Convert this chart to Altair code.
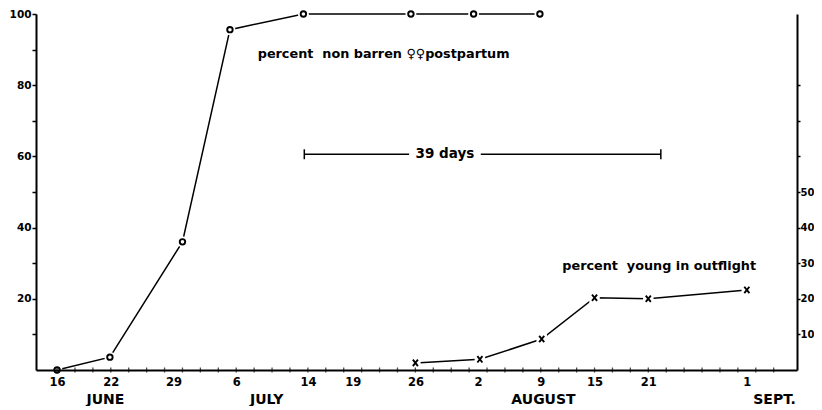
import altair as alt
import pandas as pd

# percent non-barren females postpartum; x = days after 16 June
nb_day = [0, 5.9, 14, 19.3, 27.5, 39.5, 46.5, 53.9]
nb_val = [0, 3.6, 36, 95.6, 100, 100, 100, 100]

# percent young in outflight
yg_day = [40, 47.2, 54.1, 60, 66, 77]
yg_val = [2, 3, 8.7, 20.3, 20, 22.5]

# x-axis labels (day numbers of month) and their positions
tick_days = [0, 6, 13, 20, 28, 33, 40, 47, 54, 60, 66, 77]
tick_labels = ["16", "22", "29", "6", "14", "19", "26", "2", "9", "15", "21", "1"]
minor_days = [0, 2, 4, 6, 8, 10, 12, 14, 16, 18, 20, 22, 24, 26, 28, 30, 32, 34, 36, 38,
              40, 42, 44, 46, 48, 50, 52, 54, 56, 58, 60, 62, 64, 66, 68, 70, 72, 74, 76, 78, 80]
months = ["JUNE", "JULY", "AUGUST", "SEPT."]
month_days = [5.4, 23.4, 54.3, 80.1]

# y axes
left_ticks = [10, 20, 30, 40, 50, 60, 70, 80, 90, 100]
right_ticks = [10, 20, 30, 40, 50, 60, 70, 80]

# annotations
ann_text = ["percent\u00a0 non barren \u2640\u2640postpartum", "percent\u00a0 young in outflight"]
ann_day = [22.4, 56.4]
ann_val = [88.8, 29.3]
bracket_start, bracket_end, bracket_val = 27.6, 67.4, 60.6
bracket_gap = [39.3, 47.3]
bracket_label = "39 days"

W, H = 761, 356
FONT = "DejaVu Sans"

nb = pd.DataFrame({"day": nb_day, "val": nb_val})
yg = pd.DataFrame({"day": yg_day, "val": yg_val})
minor = pd.DataFrame({"day": minor_days})
mon = pd.DataFrame({"day": month_days, "label": months})
ann = pd.DataFrame({"day": ann_day, "val": ann_val, "label": ann_text})
seg = pd.DataFrame({"day": [bracket_start, bracket_gap[1]], "day2": [bracket_gap[0], bracket_end],
                    "val": [bracket_val, bracket_val]})
caps = pd.DataFrame({"day": [bracket_start, bracket_end], "val": [bracket_val - 1.4, bracket_val - 1.4],
                     "val2": [bracket_val + 1.4, bracket_val + 1.4]})
blab = pd.DataFrame({"day": [(bracket_gap[0] + bracket_gap[1]) / 2], "val": [bracket_val],
                     "label": [bracket_label]})

xs = alt.Scale(domain=[-2.35, 82.6], nice=False, zero=False)
ys = alt.Scale(domain=[0, 100], nice=False, zero=False)

label_expr = ("[" + ",".join("'%s'" % l for l in tick_labels) + "][indexof(["
              + ",".join(str(d) for d in tick_days) + "], datum.value)]")

xaxis = alt.Axis(values=tick_days, labelExpr=label_expr, tickSize=0, labelPadding=6,
                 domainWidth=2, domainColor="black", grid=False, title=None,
                 labelFont=FONT, labelFontWeight="bold", labelFontSize=11.5,
                 labelColor="black", zindex=1)

X = alt.X("day:Q", scale=xs, axis=xaxis)
X2 = alt.X2("day2")

left_axis = alt.Axis(orient="left", values=left_ticks,
                     labelExpr="datum.value % 20 == 0 ? datum.value : ''",
                     tickSize=4, tickWidth=1.5, tickColor="black", labelPadding=1,
                     domainWidth=2, domainColor="black", grid=False, title=None,
                     labelFont=FONT, labelFontWeight="bold", labelFontSize=10.5,
                     labelColor="black", zindex=1)
right_axis = alt.Axis(orient="right", values=right_ticks,
                      labelExpr="datum.value <= 50 ? datum.value : ''",
                      tickSize=3, tickWidth=1.5, tickColor="black", labelPadding=0,
                      domainWidth=2, domainColor="black", grid=False, title=None,
                      labelFont=FONT, labelFontWeight="bold", labelFontSize=10,
                      labelColor="black", zindex=1)

Yl = alt.Y("val:Q", scale=ys, axis=left_axis)
Yr = alt.Y("val:Q", scale=ys, axis=right_axis)
Yn = alt.Y("val:Q", scale=ys, axis=None)

nb_line = alt.Chart(nb).mark_line(color="black", strokeWidth=1.5).encode(x=X, y=Yl)
yg_line = alt.Chart(yg).mark_line(color="black", strokeWidth=1.5).encode(x=X, y=Yr)

halo_nb = alt.Chart(nb).mark_point(shape="circle", filled=True, color="white", opacity=1,
                                   size=120).encode(x=X, y=Yn)
halo_yg = alt.Chart(yg).mark_point(shape="square", filled=True, color="white", opacity=1,
                                   size=110).encode(x=X, y=Yn)
pts_nb = alt.Chart(nb).mark_point(shape="circle", filled=False, color="black", opacity=1,
                                  size=30, strokeWidth=1.9).encode(x=X, y=Yn)
pts_yg = alt.Chart(yg).mark_point(shape="M-0.8,-1L0.8,1M-0.8,1L0.8,-1", filled=False,
                                  color="black", opacity=1, size=40,
                                  strokeWidth=1.9).encode(x=X, y=Yn)

minor_ticks = alt.Chart(minor).mark_tick(orient="vertical", color="black", size=5,
                                         thickness=1.3).encode(
    x=X, y=alt.YDatum(0, scale=ys, axis=None))

month_text = alt.Chart(mon).mark_text(font=FONT, fontWeight="bold", fontSize=14,
                                      baseline="middle", align="center",
                                      color="black").encode(
    x=X, y=alt.value(H + 30), text="label:N")

ann_layer = alt.Chart(ann).mark_text(font=FONT, fontWeight="bold", fontSize=12.8,
                                     baseline="middle", align="left",
                                     color="black").encode(x=X, y=Yn, text="label:N")

seg_layer = alt.Chart(seg).mark_rule(color="black", strokeWidth=1.5).encode(x=X, x2=X2, y=Yn)
cap_layer = alt.Chart(caps).mark_rule(color="black", strokeWidth=1.5).encode(
    x=X, y=Yn, y2=alt.Y2("val2"))
blab_layer = alt.Chart(blab).mark_text(font=FONT, fontWeight="bold", fontSize=13.5,
                                       baseline="middle", align="center",
                                       color="black").encode(x=X, y=Yn, text="label:N")

chart = alt.layer(
    nb_line, yg_line, halo_nb, halo_yg, pts_nb, pts_yg, minor_ticks,
    month_text, ann_layer, seg_layer, cap_layer, blab_layer
).resolve_axis(y="independent").properties(
    width=W, height=H,
    autosize=alt.AutoSizeParams(type="none"),
    padding={"left": 28, "top": 6, "right": 17, "bottom": 36},
    background="white",
).configure_view(stroke=None)

chart.save("out.html", embed_options={"renderer": "svg", "actions": False})
